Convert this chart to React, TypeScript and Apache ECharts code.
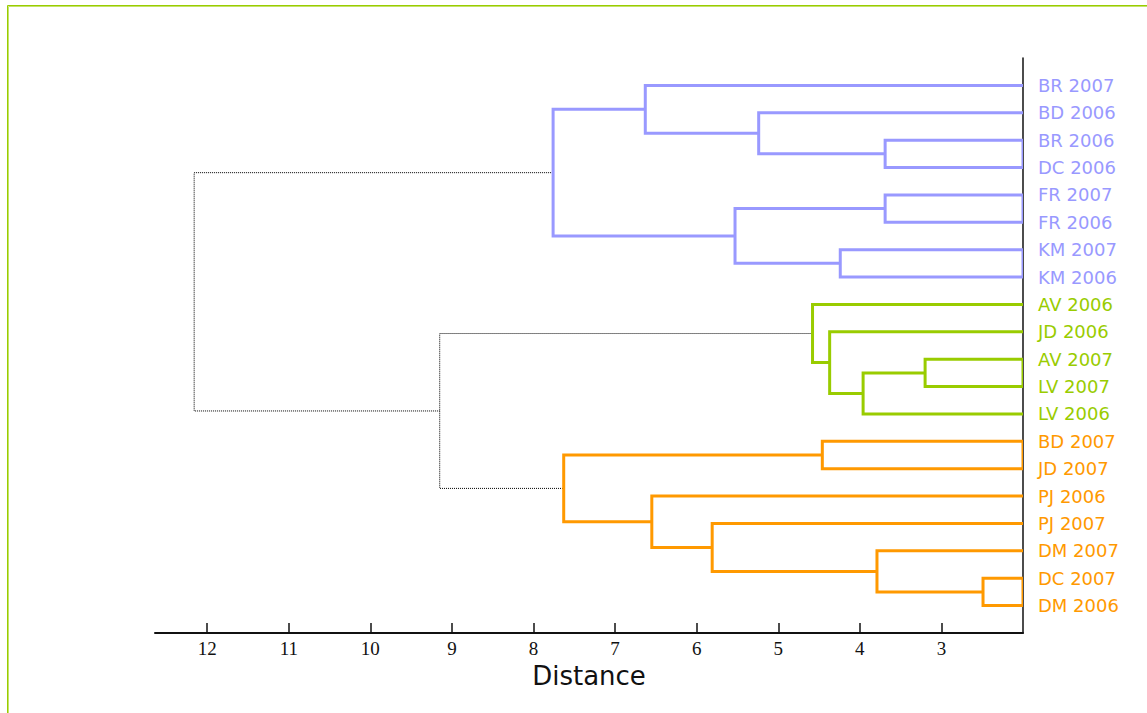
import React, { useEffect, useRef } from "react";
import * as echarts from "echarts";

// Leaves (top to bottom) and their cluster group
const LEAVES = [
  "BR 2007", "BD 2006", "BR 2006", "DC 2006", "FR 2007", "FR 2006", "KM 2007", "KM 2006",
  "AV 2006", "JD 2006", "AV 2007", "LV 2007", "LV 2006",
  "BD 2007", "JD 2007", "PJ 2006", "PJ 2007", "DM 2007", "DC 2007", "DM 2006",
];
const LEAF_GROUP = [0, 0, 0, 0, 0, 0, 0, 0, 1, 1, 1, 1, 1, 2, 2, 2, 2, 2, 2, 2];
const GROUP_COLORS = ["#9999ff", "#99cc00", "#ff9900"];

// Linkage: merge k joins MERGE_LEFT[k] and MERGE_RIGHT[k] (ids < 20 are leaves, id 20+k is merge k)
const MERGE_LEFT = [2, 1, 0, 4, 6, 23, 22, 10, 27, 9, 8, 13, 18, 17, 16, 15, 31, 30, 26];
const MERGE_RIGHT = [3, 20, 21, 5, 7, 24, 25, 11, 12, 28, 29, 14, 19, 32, 33, 34, 35, 36, 37];
const MERGE_HEIGHT = [3.69, 5.24, 6.63, 3.69, 4.24, 5.53, 7.76, 3.2, 3.96, 4.37, 4.58, 4.46, 2.49, 3.79, 5.81, 6.55, 7.63, 9.15, 12.16];

// Distance axis
const AXIS_MIN = 2;
const AXIS_MAX = 12.64;
const TICKS = [3, 4, 5, 6, 7, 8, 9, 10, 11, 12];
const LEAF_INDEX = LEAVES.map((_, i) => i);

function buildLinks() {
  const n = LEAVES.length;
  const ys: number[] = LEAVES.map((_, i) => i);
  const hs: number[] = LEAVES.map(() => AXIS_MIN);
  const gs: number[] = LEAF_GROUP.slice();
  const solid: any[] = [];
  const dotted: any[] = [];
  MERGE_LEFT.forEach((l, k) => {
    const r = MERGE_RIGHT[k];
    const h = MERGE_HEIGHT[k];
    const coords: number[][] = [
      [hs[l], ys[l]],
      [h, ys[l]],
      [h, ys[r]],
      [hs[r], ys[r]],
    ];
    if (l < n && r < n) coords.push([hs[l], ys[l]]);
    const g = gs[l] === gs[r] ? gs[l] : -1;
    if (g >= 0) {
      solid.push({ coords, lineStyle: { color: GROUP_COLORS[g], width: 3, type: "solid", opacity: 1 } });
    } else {
      dotted.push({ coords, lineStyle: { color: "#000", width: 1, type: "dotted", opacity: 1 } });
    }
    ys.push((ys[l] + ys[r]) / 2);
    hs.push(h);
    gs.push(g);
  });
  return { solid, dotted };
}

export default function App() {
  const ref = useRef<HTMLDivElement>(null);
  useEffect(() => {
    if (!ref.current) return;
    const chart = echarts.init(ref.current, undefined, { renderer: "svg" });
    const { solid, dotted } = buildLinks();
    const rich: any = {};
    GROUP_COLORS.forEach((c, i) => {
      rich["g" + i] = { color: c, fontFamily: "DejaVu Sans", fontSize: 18 };
    });
    chart.setOption({
      animation: false,
      backgroundColor: "#fff",
      grid: { left: 155, right: 124, top: 58, bottom: 80 },
      xAxis: {
        type: "value",
        inverse: true,
        min: AXIS_MIN,
        max: AXIS_MAX,
        position: "bottom",
        splitLine: { show: false },
        axisLine: { show: true, onZero: false, lineStyle: { color: "#111", width: 2 } },
        axisTick: { show: true, inside: true, length: 10, customValues: TICKS, lineStyle: { color: "#111", width: 1.5 } },
        axisLabel: {
          customValues: TICKS,
          fontFamily: "Liberation Serif",
          fontSize: 19,
          color: "#111",
          margin: 6,
        },
        name: "Distance",
        nameLocation: "middle",
        nameGap: 30,
        nameTextStyle: { fontFamily: "DejaVu Sans", fontSize: 26, color: "#111" },
      },
      yAxis: {
        type: "value",
        inverse: true,
        min: -1,
        max: 20,
        position: "right",
        splitLine: { show: false },
        axisLine: { show: true, onZero: false, lineStyle: { color: "#111", width: 1.5 } },
        axisTick: { show: false },
        axisLabel: {
          customValues: LEAF_INDEX,
          margin: 15,
          fontFamily: "DejaVu Sans",
          fontSize: 18,
          formatter: (v: number) => {
            const i = Math.round(v);
            return `{g${LEAF_GROUP[i]}|${LEAVES[i]}}`;
          },
          rich,
        },
      },
      series: [
        { type: "lines", coordinateSystem: "cartesian2d", polyline: true, data: dotted, z: 2, silent: true, lineStyle: { opacity: 1 } },
        { type: "lines", coordinateSystem: "cartesian2d", polyline: true, data: solid, z: 3, silent: true, lineStyle: { opacity: 1 } },
      ],
      graphic: [
        { type: "line", shape: { x1: 7.5, y1: 5.5, x2: 1147, y2: 5.5 }, style: { stroke: "#99cc00", lineWidth: 1 } },
        { type: "line", shape: { x1: 8.5, y1: 6.5, x2: 1147, y2: 6.5 }, style: { stroke: "#c4e36a", lineWidth: 1 } },
        { type: "line", shape: { x1: 7.5, y1: 5.5, x2: 7.5, y2: 713 }, style: { stroke: "#99cc00", lineWidth: 1 } },
        { type: "line", shape: { x1: 8.5, y1: 6.5, x2: 8.5, y2: 713 }, style: { stroke: "#c4e36a", lineWidth: 1 } },
      ],
    });
    return () => chart.dispose();
  }, []);
  return (
    <div
      ref={ref}
      style={{ position: "absolute", left: 0, top: 0, width: 1147, height: 713 }}
    />
  );
}
